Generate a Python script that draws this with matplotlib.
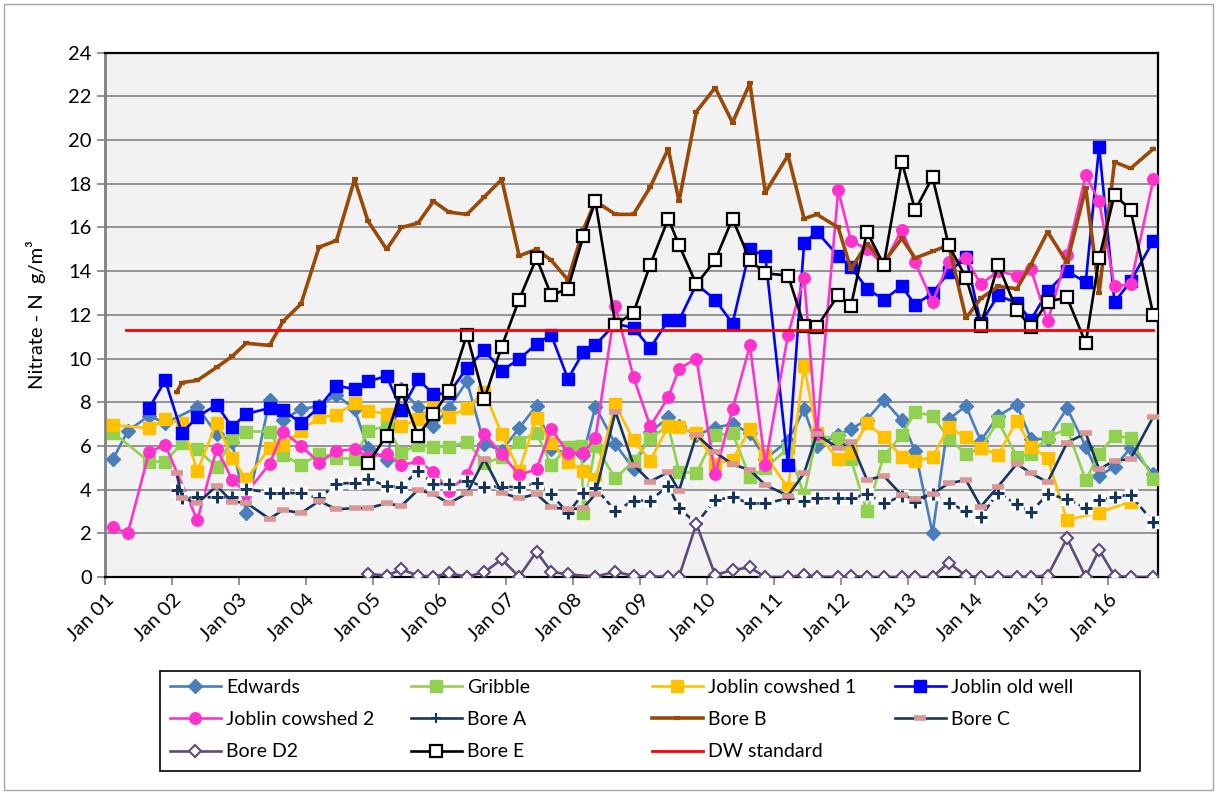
import numpy as np
import matplotlib
matplotlib.use("Agg")
import matplotlib.pyplot as plt
from matplotlib.patches import Rectangle
from matplotlib.lines import Line2D

n = np.nan

# sampling dates (decimal years)
dates = [2001.12, 2001.34, 2001.66, 2001.90, 2002.07, 2002.15, 2002.38, 2002.67, 2002.90, 2003.11,
         2003.46, 2003.66, 2003.93, 2004.20, 2004.46, 2004.73, 2004.93, 2005.21, 2005.43, 2005.68,
         2005.91, 2006.14, 2006.41, 2006.67, 2006.93, 2007.19, 2007.45, 2007.67, 2007.92, 2008.12,
         2008.15, 2008.33, 2008.63, 2008.90, 2009.15, 2009.42, 2009.58, 2009.84, 2010.12, 2010.38,
         2010.64, 2010.87, 2011.21, 2011.45, 2011.64, 2011.96, 2012.15, 2012.39, 2012.64, 2012.91,
         2013.11, 2013.37, 2013.61, 2013.87, 2014.09, 2014.35, 2014.63, 2014.84, 2015.09, 2015.38,
         2015.66, 2015.86, 2016.09, 2016.33, 2016.67]

edwards = [5.39, 6.69, 7.38, 7.04, n, n, 7.77, 6.55, 6.2, 2.95,
           8.1, 7.19, 7.68, 7.83, 8.34, 7.68, 5.9, 5.36, 8.6, 7.77,
           6.89, 7.73, 8.95, 6.09, 5.79, 6.81, 7.85, 5.85, 5.69, n,
           5.6, 7.8, 6.08, 4.95, 6.62, 7.31, 6.92, 6.5, 6.84, 7.0,
           6.58, 5.4, 6.24, 7.68, 6.0, 6.5, 6.77, 7.2, 8.1, 7.17,
           5.77, 2.0, 7.22, 7.83, 6.23, 7.38, 7.88, 6.32, 6.32, 7.73,
           5.97, 4.63, 5.05, 5.9, 4.72]

gribble = [6.61, n, 5.28, 5.28, n, 6.12, 5.85, 5.02, 6.35, 6.66,
           6.66, 5.59, 5.13, 5.62, 5.47, 5.39, 6.69, 6.92, 5.69, 6.05,
           5.97, 5.97, 6.2, 5.21, 5.48, 6.2, 6.61, 5.13, 5.97, 6.0,
           2.92, 6.0, 4.52, 5.3, 6.35, 6.92, 4.82, 4.75, 6.5, 6.58,
           4.57, 4.98, 5.9, 3.76, 6.46, 6.35, 5.39, 3.0, 5.54, 6.5,
           7.54, 7.39, 6.35, 5.62, 5.9, 7.12, 5.51, 5.62, 6.4, 6.78,
           4.44, 5.63, 6.47, 6.35, 4.48]

cowshed1 = [6.96, n, 6.81, 7.22, n, 7.04, 4.86, 7.07, 5.44, 4.48,
            5.9, 6.05, 6.69, 7.31, 7.42, 7.98, 7.62, 7.45, 6.9, 7.22,
            7.88, 7.34, 7.73, 8.49, 6.54, 4.86, 7.27, 6.15, 5.25, n,
            4.87, 4.49, 7.9, 6.25, 5.33, 6.92, 6.86, 6.58, 5.18, 5.36,
            6.77, 5.59, 4.06, 9.67, 6.58, 5.39, 5.69, 7.04, 6.4, 5.51,
            5.33, 5.48, 6.86, 6.4, 5.92, 5.59, 7.15, 5.97, 5.44, 2.61,
            n, 2.95, n, 3.45, n]

old_well = [n, n, 7.73, 9.0, n, 6.58, 7.34, 7.88, 6.86, 7.47,
            7.73, 7.65, 7.04, 7.77, 8.76, 8.6, 8.95, 9.2, 7.65, 9.05,
            8.37, 8.41, 9.56, 10.37, 9.45, 9.97, 10.67, 11.08, 9.07, n,
            10.3, 10.63, 11.6, 11.4, 10.48, 11.75, 11.75, 13.4, 12.7, 11.6,
            15.0, 14.7, 5.13, 15.3, 15.8, 14.7, 14.2, 13.2, 12.7, 13.3,
            12.46, 13.0, 13.94, 14.67, 11.62, 12.89, 12.54, 11.77, 13.07, 13.99,
            13.5, 19.7, 12.58, 13.53, 15.4]

cowshed2 = [2.28, 2.0, 5.71, 6.05, n, n, 2.6, 5.88, 4.46, 3.83,
            5.18, 6.66, 6.0, 5.24, 5.77, 5.85, 5.5, 5.63, 5.13, 5.28,
            4.82, 3.94, 4.67, 6.55, 5.63, 4.67, 4.93, 6.77, 5.69, n,
            5.69, 6.35, 12.4, 9.15, 6.89, 8.23, 9.53, 10.0, 4.7, 7.68,
            10.6, 5.13, 11.1, 13.7, 6.54, 17.7, 15.4, 15.0, 14.3, 15.9,
            14.4, 12.6, 14.4, 14.6, 13.4, 14.0, 13.8, 14.1, 11.7, 14.75,
            18.4, 17.2, 13.3, 13.4, 18.2]

bore_a = [n, n, n, n, 3.98, 3.6, 3.65, 3.65, 3.65, 4.03,
          3.86, 3.86, 3.83, 3.6, 4.26, 4.32, 4.48, 4.17, 4.14, 4.86,
          4.26, 4.26, 4.4, 4.14, 4.14, 4.11, 4.29, 3.79, 2.92, n,
          3.83, 4.08, 3.02, 3.5, 3.5, 4.18, 3.15, 2.45, 3.53, 3.65,
          3.37, 3.37, 3.6, 3.48, 3.6, 3.6, 3.6, 3.8, 3.37, 3.7,
          3.45, 3.8, 3.37, 3.04, 2.76, 3.86, 3.33, 2.96, 3.8, 3.57,
          3.15, 3.53, 3.68, 3.76, 2.5]

bore_b = [n, n, n, n, 8.45, 8.9, 9.0, 9.6, 10.1, 10.7,
          10.6, 11.7, 12.5, 15.1, 15.4, 18.2, 16.3, 15.0, 16.0, 16.2,
          17.2, 16.7, 16.6, 17.4, 18.2, 14.7, 15.0, 14.5, 13.6, n,
          15.9, 17.2, 16.6, 16.6, 17.85, 19.6, 17.2, 21.3, 22.4, 20.8,
          22.6, 17.6, 19.3, 16.4, 16.6, 16.0, 14.1, 15.25, 14.4, 15.5,
          14.6, 14.9, 15.2, 11.85, 12.75, 13.3, 13.2, 14.3, 15.8, 14.4,
          17.8, 13.0, 19.0, 18.7, 19.6]

bore_c = [n, n, n, n, 4.75, 3.63, 3.37, 4.17, 3.45, 3.4,
          2.66, 3.07, 2.92, 3.48, 3.1, 3.15, 3.15, 3.37, 3.25, 3.99,
          3.79, 3.37, 3.83, 5.39, 3.86, 3.6, 3.8, 3.19, 3.1, n,
          3.15, 3.8, 7.57, 5.13, 4.37, 4.8, 3.95, 6.5, 5.71, 5.16,
          4.9, 4.21, 3.72, 4.75, 6.54, 5.9, 6.2, 4.44, 4.63, 3.75,
          3.55, 3.8, 4.29, 4.44, 3.22, 4.14, 5.18, 4.75, 4.34, 6.15,
          6.58, 4.93, 5.33, 5.39, 7.34]

bore_d2 = [n, n, n, n, n, n, n, n, n, n,
           n, n, n, n, n, n, 0.15, 0.06, 0.35, 0.06,
           0.02, 0.17, 0.02, 0.22, 0.81, 0.02, 1.16, 0.24, 0.12, n,
           n, 0.02, 0.24, 0.05, 0.02, 0.02, 0.02, 2.43, 0.09, 0.32,
           0.44, 0.0, 0.0, 0.09, 0.02, 0.0, 0.05, 0.0, 0.0, 0.0,
           0.0, 0.0, 0.66, 0.05, 0.0, 0.0, 0.02, 0.02, 0.06, 1.77,
           0.0, 1.24, 0.05, 0.0, 0.0]

bore_e = [n, n, n, n, n, n, n, n, n, n,
          n, n, n, n, n, n, 5.2, 6.47, 8.5, 6.47,
          7.45, 8.5, 11.1, 8.15, 10.55, 12.7, 14.6, 12.9, 13.2, n,
          15.6, 17.2, 11.55, 12.1, 14.3, 16.4, 15.2, 13.4, 14.5, 16.4,
          14.5, 13.9, 13.8, 11.5, 11.45, 12.9, 12.4, 15.8, 14.3, 19.0,
          16.8, 18.3, 15.2, 13.7, 11.5, 14.3, 12.2, 11.45, 12.6, 12.8,
          10.7, 14.6, 17.5, 16.8, 12.0]

dw_dates = [2001.32, 2016.67]
dw_values = [11.3, 11.3]

year_ticks = list(range(2001, 2017))
tick_labels = ["Jan %02d" % (y % 100) for y in year_ticks]
y_ticks = list(range(0, 25, 2))

plt.rcParams['font.family'] = ['Lato', 'DejaVu Sans']

W, H = 1217, 794
fig = plt.figure(figsize=(W / 100, H / 100), dpi=100)
ax = fig.add_axes([105 / W, 1 - 577 / H, (1158 - 105) / W, (577 - 52.7) / H])
ax.set_facecolor('#F2F2F2')

x = np.array(dates)

NAVY = '#17365D'
styles = [
    ("Edwards", edwards, dict(color='#4A7EBB', lw=1.9, marker='D', ms=6.8, mfc='#4A7EBB', mec='#4A7EBB')),
    ("Gribble", gribble, dict(color='#92D050', lw=1.9, marker='s', ms=8.3, mfc='#92D050', mec='#92D050')),
    ("Joblin cowshed 1", cowshed1, dict(color='#FFC000', lw=1.9, marker='s', ms=8.3, mfc='#FFC000', mec='#FFC000')),
    ("Joblin old well", old_well, dict(color='#0000FF', lw=1.9, marker='s', ms=8.3, mfc='#0000FF', mec='#0000FF')),
    ("Joblin cowshed 2", cowshed2, dict(color='#FF33CC', lw=1.9, marker='o', ms=8.3, mfc='#FF33CC', mec='#FF33CC')),
]

handles = {}
z = 3
for name, vals, st in styles:
    v = np.array(vals, dtype=float)
    m = ~np.isnan(v)
    ln, = ax.plot(x[m], v[m], label=name, zorder=z, **st)
    handles[name] = ln
    z += 1

# Bore A: dashed navy with white-backed plus markers
v = np.array(bore_a, dtype=float); m = ~np.isnan(v)
ax.plot(x[m], v[m], color=NAVY, lw=1.9, ls=(0, (3, 1.5)), marker='s', ms=8,
        mfc='white', mec='white', zorder=z)
ax.plot(x[m], v[m], ls='none', marker='+', ms=9, mew=2.2, color=NAVY, zorder=z + 0.5)
handles["Bore A"] = Line2D([], [], color=NAVY, lw=1.9, marker='+', ms=7, mew=1.5)
z += 1

# Bore B
v = np.array(bore_b, dtype=float); m = ~np.isnan(v)
handles["Bore B"], = ax.plot(x[m], v[m], color='#9A4A08', lw=2.6, marker='_', ms=5, mew=3,
                             zorder=z)
z += 1

# Bore C
v = np.array(bore_c, dtype=float); m = ~np.isnan(v)
handles["Bore C"], = ax.plot(x[m], v[m], color=NAVY, lw=1.9, marker='_', ms=9, mew=4,
                             mec='#D99694', zorder=z)
z += 1

# Bore D2
v = np.array(bore_d2, dtype=float); m = ~np.isnan(v)
handles["Bore D2"], = ax.plot(x[m], v[m], color='#604A7B', lw=1.9, marker='D', ms=6.5,
                              mfc='white', mec='#604A7B', mew=1.5, zorder=z)
z += 1

# Bore E
v = np.array(bore_e, dtype=float); m = ~np.isnan(v)
handles["Bore E"], = ax.plot(x[m], v[m], color='black', lw=1.9, marker='s', ms=8.3,
                             mfc='white', mec='black', mew=1.6, zorder=z)
z += 1

# DW standard
handles["DW standard"], = ax.plot(dw_dates, dw_values, color='#FF0000', lw=2.0, zorder=z)

ax.set_xlim(2001.0, 2016.74)
ax.set_ylim(0, 24)
ax.set_yticks(y_ticks)
ax.set_xticks(year_ticks)
ax.set_xticklabels(tick_labels, rotation=45, ha='right', rotation_mode='anchor')
ax.tick_params(axis='both', labelsize=14.5, direction='out', length=6, width=1.2, color='#808080')
ax.tick_params(axis='x', pad=4)
ax.yaxis.grid(True, color='#8C8C8C', lw=1.3)
ax.set_axisbelow(True)
for s in ['top', 'right', 'bottom']:
    ax.spines[s].set_color('black')
    ax.spines[s].set_linewidth(1.6)
ax.spines['left'].set_color('#808080')
ax.spines['left'].set_linewidth(2)
ax.set_ylabel("Nitrate - N  g/m³", fontsize=14.5, labelpad=16)

# legend: four columns placed to match
columns = [["Edwards", "Joblin cowshed 2", "Bore D2"],
           ["Gribble", "Bore A", "Bore E"],
           ["Joblin cowshed 1", "Bore B", "DW standard"],
           ["Joblin old well", "Bore C"]]
col_x = [170, 411, 652, 895]
for cx, col in zip(col_x, columns):
    leg = fig.legend([handles[c] for c in col], col, loc='upper left',
                     bbox_to_anchor=(cx / W, 1 - 679 / H), frameon=False,
                     fontsize=14, handlelength=2.6, handletextpad=0.3,
                     labelspacing=0.78, borderpad=0, borderaxespad=0)
fig.patches.append(Rectangle((160 / W, 1 - 771 / H), (1140 - 160) / W, (771 - 671) / H,
                             transform=fig.transFigure, fill=False, ec='black', lw=1.2))
fig.patches.append(Rectangle((4 / W, 4 / H), (W - 8) / W, (H - 8) / H,
                             transform=fig.transFigure, fill=False, ec='#A6A6A6', lw=1.0))

fig.savefig("out.png", dpi=100, facecolor='white')
